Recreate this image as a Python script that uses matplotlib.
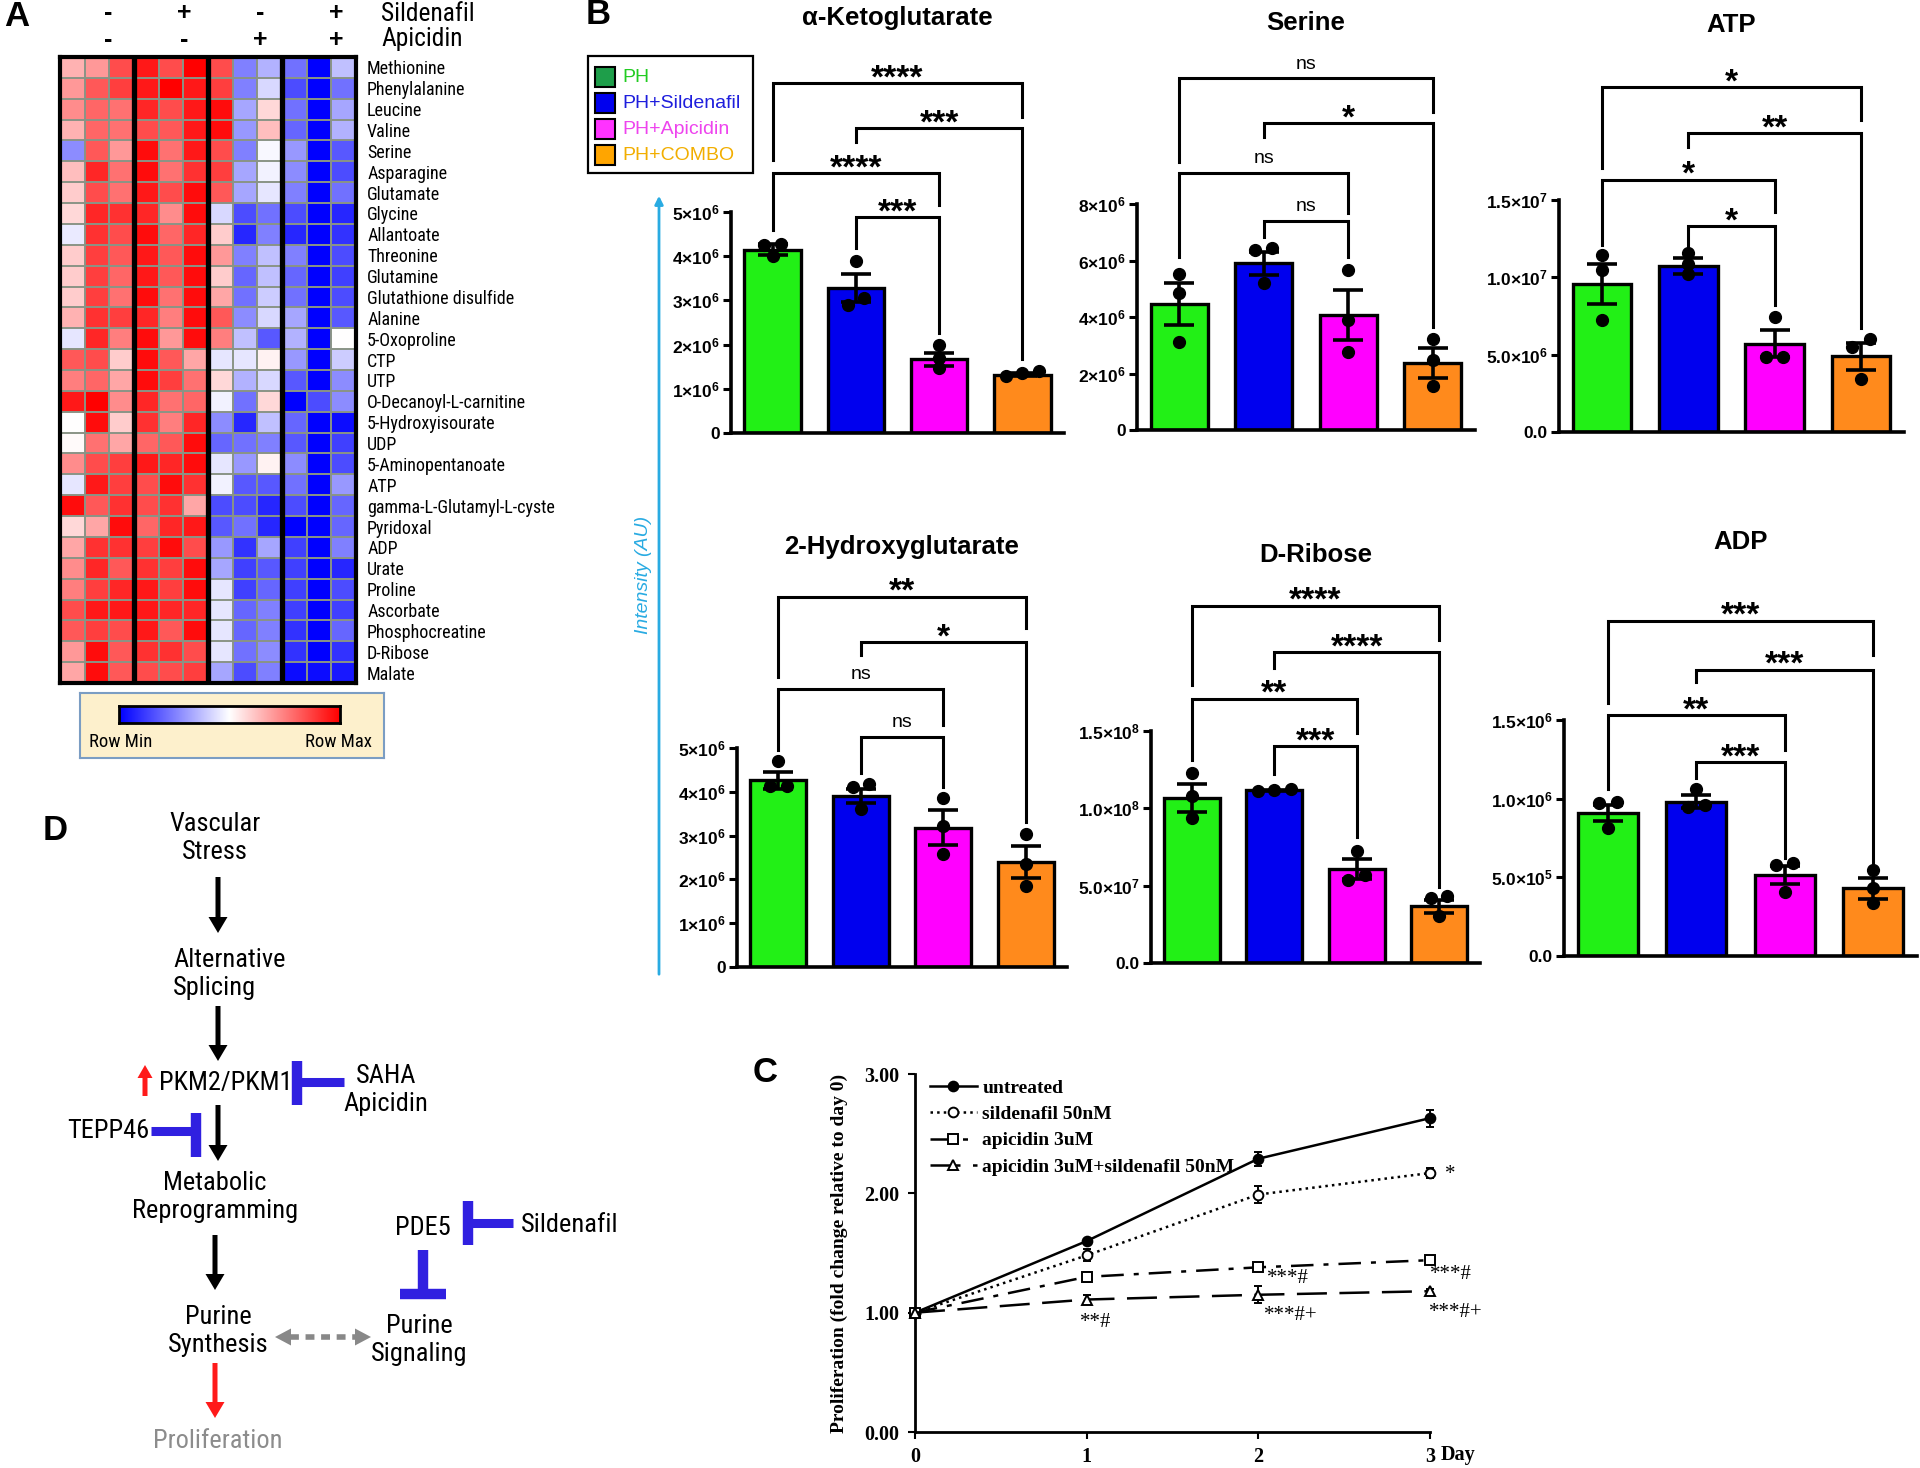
import numpy as np
import matplotlib
matplotlib.use('Agg')
import matplotlib.pyplot as plt
from matplotlib.colors import LinearSegmentedColormap
from matplotlib.patches import Rectangle
from matplotlib.lines import Line2D
from matplotlib import font_manager
from matplotlib.font_manager import FontProperties
from matplotlib.textpath import TextPath

names = {f.name for f in font_manager.fontManager.ttflist}
SANS = 'Liberation Sans' if 'Liberation Sans' in names else 'DejaVu Sans'
SERIF = 'Liberation Serif' if 'Liberation Serif' in names else 'DejaVu Serif'
NARROW = SANS
for cand in ['Liberation Sans Narrow', 'Arial Narrow', 'Roboto Condensed',
             'Noto Sans Condensed', 'DejaVu Sans Condensed', 'Open Sans Condensed']:
    if cand in names:
        NARROW = cand
        break

plt.rcParams['font.family'] = SANS
plt.rcParams['mathtext.fontset'] = 'custom'
plt.rcParams['mathtext.rm'] = SANS + ':bold'
plt.rcParams['mathtext.bf'] = SANS + ':bold'
plt.rcParams['mathtext.it'] = SANS + ':bold:italic'


def fit_size(s, target_px, max_pt, family=NARROW, weight='normal'):
    # font size (pt) at which text s is target_px wide, capped at max_pt
    w = TextPath((0, 0), s, size=100, prop=FontProperties(family=family, weight=weight)).get_extents().width
    return min(max_pt, target_px * 72 / w)


# ---------------- data: panel A heatmap ----------------
metabolites = ['Methionine', 'Phenylalanine', 'Leucine', 'Valine', 'Serine', 'Asparagine',
               'Glutamate', 'Glycine', 'Allantoate', 'Threonine', 'Glutamine',
               'Glutathione disulfide', 'Alanine', '5-Oxoproline', 'CTP', 'UTP',
               'O-Decanoyl-L-carnitine', '5-Hydroxyisourate', 'UDP', '5-Aminopentanoate',
               'ATP', 'gamma-L-Glutamyl-L-cyste', 'Pyridoxal', 'ADP', 'Urate', 'Proline',
               'Ascorbate', 'Phosphocreatine', 'D-Ribose', 'Malate']
sildenafil_signs = ['-', '+', '-', '+']
apicidin_signs = ['-', '-', '+', '+']
heat = np.array([
    [0.30, 0.40, 0.70, 0.90, 0.70, 1.00, 0.70, -0.50, -0.30, -0.55, -1.00, -0.25],
    [0.40, 0.65, 0.75, 0.90, 1.00, 0.90, 0.75, -0.50, -0.15, -0.70, -1.00, -0.55],
    [0.45, 0.60, 0.55, 0.85, 0.70, 0.90, 0.95, -0.35, 0.15, -0.55, -1.00, -0.35],
    [0.30, 0.60, 0.55, 0.70, 0.65, 0.90, 0.95, -0.40, 0.25, -0.60, -1.00, -0.30],
    [-0.45, 0.65, 0.40, 0.95, 0.55, 0.90, 0.70, -0.50, -0.03, -0.40, -1.00, -0.65],
    [0.25, 0.85, 0.55, 0.95, 0.55, 0.80, 0.75, -0.35, -0.05, -0.45, -1.00, -0.70],
    [0.20, 0.70, 0.55, 0.90, 0.70, 0.95, 0.65, -0.35, -0.10, -0.50, -1.00, -0.55],
    [0.15, 0.85, 0.80, 0.85, 0.45, 0.95, -0.15, -0.70, -0.55, -0.70, -1.00, -0.85],
    [-0.08, 0.80, 0.70, 0.95, 0.60, 0.85, 0.20, -0.85, -0.50, -0.85, -1.00, -0.80],
    [0.20, 0.75, 0.65, 0.90, 0.65, 0.95, 0.40, -0.50, -0.25, -0.50, -1.00, -0.70],
    [0.20, 0.75, 0.60, 0.90, 0.65, 0.95, 0.20, -0.60, -0.25, -0.60, -1.00, -0.75],
    [0.20, 0.75, 0.55, 0.95, 0.55, 0.95, 0.35, -0.55, -0.20, -0.55, -1.00, -0.70],
    [0.30, 0.80, 0.75, 0.85, 0.50, 0.95, 0.65, -0.45, -0.15, -0.35, -1.00, -0.65],
    [-0.10, 0.85, 0.50, 0.95, 0.40, 0.95, 0.50, -0.25, -0.65, -0.30, -1.00, 0.00],
    [0.65, 0.70, 0.20, 0.95, 0.65, 0.35, -0.10, -0.10, 0.05, -0.40, -1.00, -0.20],
    [0.50, 0.60, 0.35, 0.95, 0.75, 0.55, 0.15, -0.30, -0.15, -0.65, -1.00, -0.45],
    [0.90, 1.00, 0.45, 0.85, 0.55, 0.60, -0.05, -0.55, 0.15, -1.00, -0.70, -0.45],
    [0.00, 0.95, 0.20, 0.80, 0.50, 0.85, -0.45, -0.85, -0.25, -0.60, -1.00, -0.95],
    [0.02, 0.55, 0.35, 0.60, 0.65, 0.95, -0.60, -0.55, -0.50, -0.65, -1.00, -0.75],
    [0.45, 0.70, 0.75, 0.90, 0.85, 0.95, -0.10, -0.40, 0.05, -0.45, -1.00, -0.70],
    [-0.10, 0.90, 0.75, 0.70, 0.95, 0.80, -0.05, -0.65, -0.65, -0.55, -1.00, -0.40],
    [0.95, 0.65, 0.80, 0.70, 0.80, 0.35, -0.70, -0.70, -0.85, -0.70, -1.00, -0.60],
    [0.15, 0.35, 0.95, 0.60, 0.85, 0.90, -0.65, -0.55, -0.85, -1.00, -1.00, -0.60],
    [0.35, 0.80, 0.80, 0.75, 0.95, 0.70, -0.40, -0.80, -0.35, -0.75, -1.00, -0.50],
    [0.45, 0.85, 0.65, 0.80, 0.75, 0.95, -0.35, -0.75, -0.65, -0.75, -1.00, -0.85],
    [0.50, 0.75, 0.85, 0.90, 0.75, 0.95, -0.10, -0.75, -0.60, -0.75, -1.00, -0.70],
    [0.70, 0.90, 0.90, 0.90, 0.85, 0.85, -0.10, -0.60, -0.50, -0.75, -1.00, -0.75],
    [0.65, 0.75, 0.70, 0.90, 0.65, 0.95, -0.10, -0.60, -0.50, -0.80, -1.00, -0.60],
    [0.40, 0.95, 0.65, 0.80, 0.80, 0.70, -0.10, -0.55, -0.45, -0.80, -1.00, -0.80],
    [0.35, 0.95, 0.65, 0.70, 0.70, 0.75, -0.35, -0.70, -0.50, -0.95, -0.95, -0.90],
])

# ---------------- data: panel B bar charts ----------------
groups = ['PH', 'PH+Sildenafil', 'PH+Apicidin', 'PH+COMBO']
pairs = [(0, 3), (1, 3), (0, 2), (1, 2)]

akg_mean = [4.15, 3.28, 1.67, 1.32]          # x1e6
akg_sem = [0.12, 0.32, 0.15, 0.03]
akg_pts = [[4.28, 4.25, 4.00], [3.90, 3.05, 2.90], [1.98, 1.70, 1.46], [1.40, 1.35, 1.28]]
akg_sig = ['****', '***', '****', '***']

ser_mean = [4.46, 5.90, 4.07, 2.36]          # x1e6
ser_sem = [0.75, 0.40, 0.88, 0.53]
ser_pts = [[5.52, 4.84, 3.13], [6.43, 6.37, 5.19], [5.66, 3.90, 2.77], [3.22, 2.48, 1.56]]
ser_sig = ['ns', '*', 'ns', 'ns']

atp_mean = [9.59, 10.73, 5.72, 4.89]         # x1e6
atp_sem = [1.30, 0.50, 0.86, 0.85]
atp_pts = [[11.42, 10.45, 7.22], [11.60, 10.88, 10.20], [7.43, 4.87, 4.87], [6.00, 5.50, 3.45]]
atp_sig = ['*', '**', '*', '*']

hg_mean = [4.26, 3.90, 3.18, 2.40]           # x1e6
hg_sem = [0.20, 0.16, 0.40, 0.36]
hg_pts = [[4.70, 4.13, 4.13], [4.17, 4.11, 3.61], [3.86, 3.23, 2.59], [3.03, 2.36, 1.86]]
hg_sig = ['**', '*', 'ns', 'ns']

rib_mean = [10.67, 11.16, 6.08, 3.66]        # x1e7
rib_sem = [0.90, 0.05, 0.65, 0.42]
rib_pts = [[12.28, 10.78, 9.38], [11.25, 11.16, 11.10], [7.26, 5.71, 5.39], [4.31, 4.20, 3.02]]
rib_sig = ['****', '****', '**', '***']

adp_mean = [9.07, 9.81, 5.15, 4.30]          # x1e5
adp_sem = [0.50, 0.40, 0.60, 0.65]
adp_pts = [[9.81, 9.75, 8.11], [10.60, 9.60, 9.50], [5.93, 5.78, 4.09], [5.47, 4.30, 3.35]]
adp_sig = ['***', '***', '**', '***']

# ---------------- data: panel C proliferation ----------------
days = [0, 1, 2, 3]
untreated = [1.00, 1.60, 2.29, 2.63]
untreated_err = [0.02, 0.02, 0.06, 0.07]
sildenafil = [1.00, 1.48, 1.99, 2.17]
sildenafil_err = [0.02, 0.05, 0.07, 0.04]
apicidin = [1.00, 1.30, 1.38, 1.44]
apicidin_err = [0.02, 0.04, 0.02, 0.03]
combo = [1.00, 1.11, 1.15, 1.18]
combo_err = [0.02, 0.04, 0.07, 0.02]
c_labels = ['untreated', 'sildenafil 50nM', 'apicidin 3uM', 'apicidin 3uM+sildenafil 50nM']
c_notes = ['*', '***#', '***#', '**#', '***#+', '***#+']
c_note_x = [3.09, 2.17, 3.12, 1.05, 2.19, 3.15]
c_note_y = [2.16, 1.29, 1.32, 0.92, 0.98, 1.00]

# ---------------- figure ----------------
W, H = 1920, 1468
fig = plt.figure(figsize=(W / 100, H / 100), dpi=100)


def px_axes(l, t, r, b):
    return fig.add_axes([l / W, 1 - b / H, (r - l) / W, (b - t) / H])


# ---- A: heatmap
cmap = LinearSegmentedColormap.from_list('bwr_row', ['#0000FF', '#FFFFFF', '#FF0000'])
hm = px_axes(60, 57, 356, 683)
hm.imshow(heat, cmap=cmap, vmin=-1, vmax=1, aspect='auto', interpolation='nearest')
for i in range(1, heat.shape[0]):
    hm.axhline(i - 0.5, color='#8a9486', lw=1.4)
for j in range(1, heat.shape[1]):
    if j % 3:
        hm.axvline(j - 0.5, color='#8a9486', lw=1.4)
for j in (3, 6, 9):
    hm.axvline(j - 0.5, color='k', lw=3.8)
for s in hm.spines.values():
    s.set_linewidth(3)
hm.set_xticks([])
hm.yaxis.tick_right()
hm.set_yticks(np.arange(len(metabolites)))
hm.set_yticklabels(metabolites, fontsize=fit_size('Glutathione disulfide', 145, 13.5), family=NARROW)
hm.tick_params(axis='y', length=0, pad=8)

# colour key
key = px_axes(80, 693, 384, 758)
key.set_facecolor('#FDF0CC')
key.set_xticks([])
key.set_yticks([])
for s in key.spines.values():
    s.set_color('#7B9DC3')
    s.set_linewidth(1.5)
key_fs = fit_size('Row Min', 61, 13.5)
key.text(0.03, 0.25, 'Row Min', transform=key.transAxes, fontsize=key_fs, family=NARROW, va='center')
key.text(0.96, 0.25, 'Row Max', transform=key.transAxes, fontsize=key_fs, family=NARROW,
         va='center', ha='right')
grad = px_axes(119, 706, 340, 723)
grad.imshow(np.linspace(-1, 1, 256)[None, :], cmap=cmap, aspect='auto')
grad.set_xticks([])
grad.set_yticks([])
for s in grad.spines.values():
    s.set_linewidth(2)

# ---- B: bar charts
BAR_COLORS = ['#22F016', '#0000EE', '#FF00FF', '#FF8A1C']


def spread(vals, tol):
    vals = np.asarray(vals, float)
    off = np.zeros(len(vals))
    grp = []
    for idx in np.argsort(vals):
        if grp and vals[idx] - vals[grp[-1][-1]] < tol:
            grp[-1].append(idx)
        else:
            grp.append([idx])
    for g in grp:
        for k, idx in enumerate(g):
            off[idx] = (k - (len(g) - 1) / 2) * 0.2
    return off


def sci(v, unit_exp, dec):
    if v == 0:
        return '0' if dec == 0 else '0.0'
    val = v * 10 ** unit_exp
    e = int(np.floor(np.log10(val)))
    m = val / 10 ** e
    return r'$%.*f{\times}10^{%d}$' % (dec, m, e)


def bar_panel(box, mean, sem, pts, unit_exp, ticks, dec, sig, levels, title, title_y):
    ax = px_axes(*box)
    x = np.arange(4)
    top = ticks[-1]
    ax.bar(x, mean, width=0.68, color=BAR_COLORS, edgecolor='k', linewidth=2.4, zorder=2)
    ax.errorbar(x, mean, yerr=sem, fmt='none', ecolor='k', elinewidth=2.6,
                capsize=11, capthick=2.6, zorder=3)
    for i, p in enumerate(pts):
        ax.plot(i + spread(p, top * 0.035), p, 'o', color='k', ms=8.5, zorder=4, clip_on=False)
    for (i, j), (y, yl, yr), lab in zip(pairs, levels, sig):
        ax.plot([i, i, j, j], [yl, y, y, yr], color='k', lw=2.2, clip_on=False,
                solid_joinstyle='miter')
        if lab == 'ns':
            ax.annotate(lab, ((i + j) / 2, y), xytext=(0, 7), textcoords='offset points',
                        ha='center', va='baseline', fontsize=14, annotation_clip=False)
        else:
            ax.annotate(lab, ((i + j) / 2, y), xytext=(0, -3), textcoords='offset points',
                        ha='center', va='baseline', fontsize=24, fontweight='bold',
                        annotation_clip=False)
    ax.set_xlim(-0.5, 3.5)
    ax.set_ylim(0, top)
    ax.set_yticks(ticks, [sci(t, unit_exp, dec) for t in ticks], fontsize=12.5, fontweight='bold')
    ax.set_xticks([])
    ax.tick_params(axis='y', length=6, width=2.2, pad=2)
    for s in ('top', 'right'):
        ax.spines[s].set_visible(False)
    for s in ('left', 'bottom'):
        ax.spines[s].set_linewidth(2.6)
    ax.set_facecolor('none')
    fig.text((box[0] + box[2]) / 2 / W, 1 - title_y / H, title, ha='center', va='center',
             fontsize=18.5, fontweight='bold')
    return ax


bar_panel((731, 212, 1064, 433), akg_mean, akg_sem, akg_pts, 6, [0, 1, 2, 3, 4, 5], 0, akg_sig,
          [(7.92, 6.18, 7.15), (6.90, 6.58, 1.67), (5.88, 4.59, 5.16), (4.88, 4.18, 2.26)],
          'α-Ketoglutarate', 18)
bar_panel((1137, 204, 1475, 430), ser_mean, ser_sem, ser_pts, 6, [0, 2, 4, 6, 8], 0, ser_sig,
          [(12.45, 9.5, 11.27), (10.86, 10.36, 3.66), (9.1, 6.14, 7.67), (7.41, 6.84, 6.14)],
          'Serine', 23)
bar_panel((1559, 200, 1904, 432), atp_mean, atp_sem, atp_pts, 6, [0, 5, 10, 15], 1, atp_sig,
          [(22.3, 17.1, 20.2), (19.3, 18.4, 6.7), (16.3, 12.1, 14.2), (13.3, 11.8, 8.2)],
          'ATP', 25)
bar_panel((737, 748, 1067, 967), hg_mean, hg_sem, hg_pts, 6, [0, 1, 2, 3, 4, 5], 0, hg_sig,
          [(8.45, 6.62, 7.74), (7.42, 7.12, 3.31), (6.35, 4.95, 5.53), (5.25, 4.43, 4.11)],
          '2-Hydroxyglutarate', 547)
bar_panel((1151, 731, 1480, 963), rib_mean, rib_sem, rib_pts, 7, [0, 5, 10, 15], 1, rib_sig,
          [(23.1, 18.0, 20.9), (20.1, 19.1, 4.93), (17.1, 13.1, 14.9), (14.0, 12.2, 8.17)],
          'D-Ribose', 555)
bar_panel((1564, 720, 1917, 956), adp_mean, adp_sem, adp_pts, 5, [0, 5, 10, 15], 1, adp_sig,
          [(21.3, 16.1, 19.1), (18.2, 17.4, 5.6), (15.3, 10.6, 13.1), (12.3, 11.3, 6.2)],
          'ADP', 542)

# ---- C: proliferation curve
cx = px_axes(915, 1074, 1430, 1432)
series = [(untreated, untreated_err, '-', 'o', 'k'),
          (sildenafil, sildenafil_err, ':', 'o', 'w'),
          (apicidin, apicidin_err, (0, (9, 4, 2, 4)), 's', 'w'),
          (combo, combo_err, (0, (12, 5)), '^', 'w')]
handles = []
for (yv, ye, ls, mk, mfc), lab in zip(series, c_labels):
    cx.errorbar(days, yv, yerr=ye, color='k', ls=ls, lw=1.8, marker=mk, mfc=mfc, mec='k',
                ms=7, mew=1.4, elinewidth=1.4, capsize=3, clip_on=False, zorder=3)
    handles.append(Line2D([], [], color='k', ls=ls, lw=1.8, marker=mk, mfc=mfc, mec='k',
                          ms=7, mew=1.4))
cx.set_xlim(0, 3)
cx.set_ylim(0, 3)
cx.set_yticks([0, 1, 2, 3], ['%.2f' % v for v in [0, 1, 2, 3]])
cx.set_xticks(days, ['0', '1', '2', '3'])
for lab in cx.get_xticklabels() + cx.get_yticklabels():
    lab.set_family(SERIF)
    lab.set_fontweight('bold')
    lab.set_fontsize(14.5)
cx.tick_params(length=5, width=1.5, pad=6)
for s in ('top', 'right'):
    cx.spines[s].set_visible(False)
for s in ('left', 'bottom'):
    cx.spines[s].set_linewidth(2)
cx.set_ylabel('Proliferation (fold change relative to day 0)', family=SERIF,
              fontweight='bold', fontsize=14)
cx.yaxis.set_label_coords(-0.13, 0.5)
cx.text(1.02, -0.065, 'Day', transform=cx.transAxes, family=SERIF, fontweight='bold',
        fontsize=14.5, va='center', ha='left')
for t, xx, yy in zip(c_notes, c_note_x, c_note_y):
    cx.text(xx, yy, t, family=SERIF, fontsize=15, ha='center' if t != '*' else 'left',
            va='center', clip_on=False)
cx.legend(handles, c_labels, loc='upper left', bbox_to_anchor=(930 / W, 1 - 1079 / H),
          bbox_transform=fig.transFigure, frameon=False, handlelength=2.4,
          handletextpad=0.3, labelspacing=0.45, borderpad=0, borderaxespad=0,
          prop=dict(family=SERIF, weight='bold', size=14))

# ---- overlay: headers, labels, legend, diagram
ov = fig.add_axes([0, 0, 1, 1])
ov.set_xlim(0, W)
ov.set_ylim(H, 0)
ov.axis('off')
ov.patch.set_alpha(0)

for lab, (x, y) in zip('ABCD', [(17, 17), (598, 15), (765, 1072), (55, 830)]):
    ov.text(x, y, lab, fontsize=25, fontweight='bold', ha='center', va='center')

col_w = (356 - 60) / 12
for g, (s1, s2) in enumerate(zip(sildenafil_signs, apicidin_signs)):
    gx = 60 + (3 * g + 1.5) * col_w + 11 + 2 * g
    ov.text(gx, 13, s1, fontsize=18, fontweight='bold', ha='center', va='center')
    ov.text(gx, 40, s2, fontsize=18, fontweight='bold', ha='center', va='center')
hdr_fs = fit_size('Sildenafil', 91, 20)
ov.text(381, 14, 'Sildenafil', fontsize=hdr_fs, family=NARROW, va='center')
ov.text(381, 39, 'Apicidin', fontsize=hdr_fs, family=NARROW, va='center')

# B legend
ov.add_patch(Rectangle((588, 56), 165, 117, fill=False, ec='k', lw=1.6))
leg_patch = ['#1E9E4A', '#0000EE', '#FF33FF', '#FFA500']
leg_text = ['#22CC22', '#1E1EDD', '#EE44EE', '#F2AE00']
for k, (g, pc, tc) in enumerate(zip(groups, leg_patch, leg_text)):
    yc = 77 + k * 26
    ov.add_patch(Rectangle((595, yc - 10), 20, 20, fc=pc, ec='k', lw=1.5))
    ov.text(622, yc, g, color=tc, fontsize=14, va='center')

# B intensity axis arrow
ov.annotate('', xy=(659, 193), xytext=(659, 977),
            arrowprops=dict(arrowstyle='-|>', color='#29ABE2', lw=2, mutation_scale=12))
ov.text(644, 575, 'Intensity (AU)', rotation=90, color='#29ABE2', fontsize=14,
        style='italic', ha='center', va='center')

# D diagram
d_fs = fit_size('Reprogramming', 162, 19)
dkw = dict(fontsize=d_fs, family=NARROW, va='center')
ov.text(215, 838, 'Vascular\nStress', ha='center', **dkw)
ov.text(173, 974, 'Alternative\nSplicing', ha='left', **dkw)
ov.text(159, 1083, 'PKM2/PKM1', ha='left', **dkw)
ov.text(386, 1090, 'SAHA\nApicidin', ha='center', **dkw)
ov.text(149, 1131, 'TEPP46', ha='right', **dkw)
ov.text(215, 1197, 'Metabolic\nReprogramming', ha='center', **dkw)
ov.text(218, 1331, 'Purine\nSynthesis', ha='center', **dkw)
ov.text(218, 1441, 'Proliferation', ha='center', color='#8c8c8c', **dkw)
ov.text(423, 1228, 'PDE5', ha='center', **dkw)
ov.text(521, 1225, 'Sildenafil', ha='left', **dkw)
ov.text(419, 1340, 'Purine\nSignaling', ha='center', **dkw)

akw = dict(width=5, head_width=19, head_length=16, length_includes_head=True, lw=0)
for x0, y0, y1 in [(218, 877, 933), (218, 1006, 1061), (218, 1105, 1161), (215, 1235, 1290)]:
    ov.arrow(x0, y0, 0, y1 - y0, color='k', **akw)
ov.arrow(215, 1363, 0, 55, color='#FF1A1A', **akw)
ov.arrow(145, 1096, 0, -31, color='#FF1A1A', width=5, head_width=15, head_length=13,
         length_includes_head=True, lw=0)

blue = '#3020E0'
tkw = dict(color=blue, solid_capstyle='butt')
ov.plot([297, 297], [1061, 1105], lw=7.5, **tkw)
ov.plot([297, 344], [1082, 1082], lw=6.5, **tkw)
ov.plot([196, 196], [1113, 1157], lw=7.5, **tkw)
ov.plot([151, 196], [1131, 1131], lw=6.5, **tkw)
ov.plot([468, 468], [1201, 1245], lw=7.5, **tkw)
ov.plot([468, 513], [1223, 1223], lw=6.5, **tkw)
ov.plot([423, 423], [1250, 1294], lw=7.5, **tkw)
ov.plot([400, 446], [1294, 1294], lw=7.5, **tkw)

ov.plot([290, 356], [1337, 1337], color='#888888', lw=4, ls=(0, (1.6, 1.2)),
        solid_capstyle='butt', dash_capstyle='butt')
ov.arrow(291, 1337, -16, 0, width=0.5, head_width=17, head_length=16,
         length_includes_head=True, color='#888888', lw=0)
ov.arrow(355, 1337, 16, 0, width=0.5, head_width=17, head_length=16,
         length_includes_head=True, color='#888888', lw=0)

fig.savefig('out.png', dpi=100, facecolor='white')
